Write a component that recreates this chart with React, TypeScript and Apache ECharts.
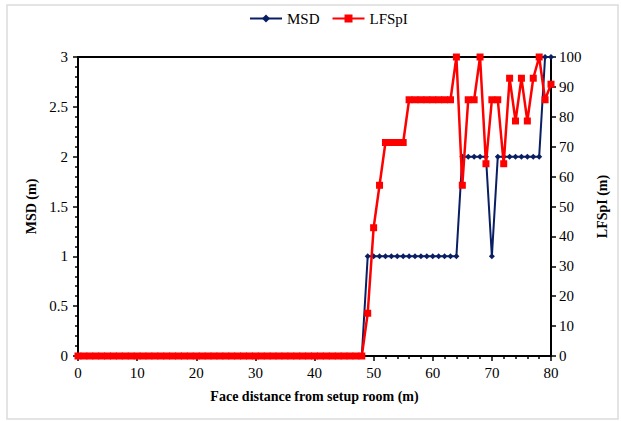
import React, { useEffect, useRef } from "react";
import * as echarts from "echarts";

const distances: number[] = Array.from({ length: 81 }, (_, i) => i);
const msdValues: number[] = [
  0, 0, 0, 0, 0, 0, 0, 0, 0, 0,
  0, 0, 0, 0, 0, 0, 0, 0, 0, 0,
  0, 0, 0, 0, 0, 0, 0, 0, 0, 0,
  0, 0, 0, 0, 0, 0, 0, 0, 0, 0,
  0, 0, 0, 0, 0, 0, 0, 0, 0, 1,
  1, 1, 1, 1, 1, 1, 1, 1, 1, 1,
  1, 1, 1, 1, 1, 2, 2, 2, 2, 2,
  1, 2, 2, 2, 2, 2, 2, 2, 2, 3,
  3,
];
const lfspiValues: number[] = [
  0, 0, 0, 0, 0, 0, 0, 0, 0, 0,
  0, 0, 0, 0, 0, 0, 0, 0, 0, 0,
  0, 0, 0, 0, 0, 0, 0, 0, 0, 0,
  0, 0, 0, 0, 0, 0, 0, 0, 0, 0,
  0, 0, 0, 0, 0, 0, 0, 0, 0, 14.3,
  42.9, 57.1, 71.4, 71.4, 71.4, 71.4, 85.7, 85.7, 85.7, 85.7,
  85.7, 85.7, 85.7, 85.7, 100, 57.1, 85.7, 85.7, 100, 64.3,
  85.7, 85.7, 64.3, 92.9, 78.6, 92.9, 78.6, 92.9, 100, 85.7,
  90.9,
];

const SERIF = "'Liberation Serif', 'Times New Roman', serif";

export default function App() {
  const ref = useRef<HTMLDivElement>(null);
  useEffect(() => {
    if (!ref.current) return;
    const chart = echarts.init(ref.current, null, { renderer: "svg" });
    const msdData = distances.map((d, i) => [d, msdValues[i]]);
    const lfData = distances.map((d, i) => [d, lfspiValues[i]]);
    chart.setOption({
      animation: false,
      backgroundColor: "#ffffff",
      graphic: [
        {
          type: "rect",
          shape: { x: 7, y: 5, width: 611, height: 414 },
          style: { fill: "none", stroke: "#dcdcdc", lineWidth: 1.5 },
          silent: true,
        },
      ],
      legend: {
        top: 6,
        left: 244,
        itemWidth: 32,
        itemHeight: 10,
        itemGap: 12,
        textStyle: { fontFamily: SERIF, fontSize: 15, color: "#000" },
        data: ["MSD", "LFSpI"],
      },
      grid: {
        left: 78,
        right: 70,
        top: 57,
        bottom: 65,
        show: true,
        borderColor: "#000",
        borderWidth: 2,
        backgroundColor: "transparent",
      },
      xAxis: {
        type: "value",
        min: 0,
        max: 80,
        interval: 10,
        name: "Face distance from setup room (m)",
        nameLocation: "middle",
        nameGap: 33,
        nameTextStyle: { fontFamily: SERIF, fontSize: 14, fontWeight: "bold", color: "#000" },
        axisLine: { lineStyle: { color: "#000", width: 2 } },
        axisTick: { show: true, length: 5, lineStyle: { color: "#000", width: 1.5 } },
        minorTick: { show: true, splitNumber: 5, length: 3, lineStyle: { color: "#000", width: 1.5 } },
        axisLabel: { fontFamily: SERIF, fontSize: 15, color: "#000", margin: 9 },
        splitLine: { show: false },
      },
      yAxis: [
        {
          type: "value",
          min: 0,
          max: 3,
          interval: 0.5,
          position: "left",
          name: "MSD (m)",
          nameLocation: "middle",
          nameRotate: 90,
          nameGap: 37,
          nameTextStyle: { fontFamily: SERIF, fontSize: 14, fontWeight: "bold", color: "#000" },
          axisLine: { show: true, lineStyle: { color: "#000", width: 2 } },
          axisTick: { show: true, length: 5, lineStyle: { color: "#000", width: 1.5 } },
          minorTick: { show: true, splitNumber: 5, length: 3, lineStyle: { color: "#000", width: 1.5 } },
          axisLabel: { fontFamily: SERIF, fontSize: 15, color: "#000", margin: 10 },
          splitLine: { show: false },
        },
        {
          type: "value",
          min: 0,
          max: 100,
          interval: 10,
          position: "right",
          name: "LFSpI (m)",
          nameLocation: "middle",
          nameRotate: 90,
          nameGap: 44,
          nameTextStyle: { fontFamily: SERIF, fontSize: 14, fontWeight: "bold", color: "#000" },
          axisLine: { show: true, lineStyle: { color: "#000", width: 2 } },
          axisTick: { show: true, length: 5, lineStyle: { color: "#000", width: 1.5 } },
          axisLabel: { fontFamily: SERIF, fontSize: 15, color: "#000", margin: 8 },
          splitLine: { show: false },
        },
      ],
      series: [
        {
          name: "MSD",
          type: "line",
          yAxisIndex: 0,
          data: msdData,
          symbol: "diamond",
          symbolSize: 6,
          lineStyle: { color: "#0a1f63", width: 2 },
          itemStyle: { color: "#0a1f63" },
          z: 2,
        },
        {
          name: "LFSpI",
          type: "line",
          yAxisIndex: 1,
          data: lfData,
          symbol: "rect",
          symbolSize: 7,
          lineStyle: { color: "#ff0000", width: 2.5 },
          itemStyle: { color: "#ff0000" },
          z: 3,
        },
      ],
    });
    return () => chart.dispose();
  }, []);
  return <div ref={ref} style={{ width: 621, height: 421, position: "absolute", left: 0, top: 0 }} />;
}
